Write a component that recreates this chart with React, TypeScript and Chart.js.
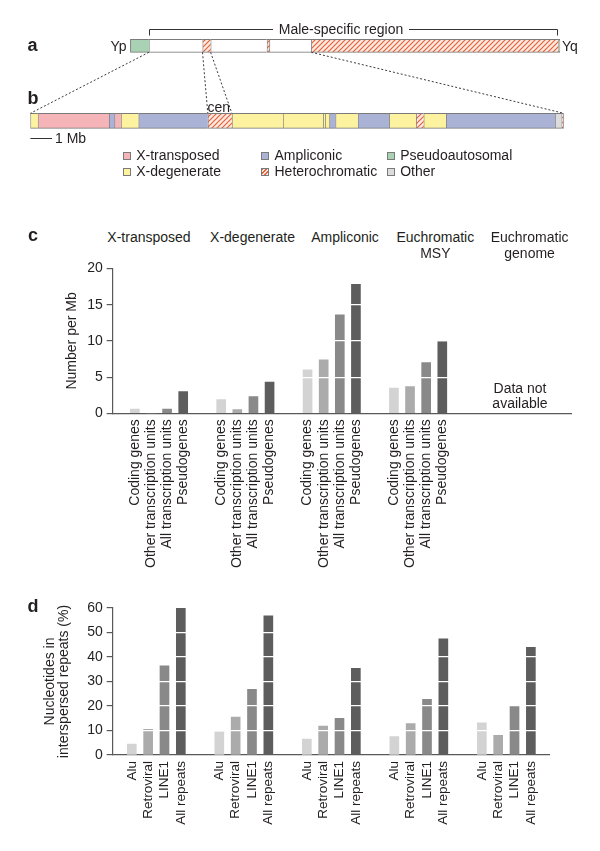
import React, { useEffect, useRef } from 'react';
import { Chart, registerables } from 'chart.js';

Chart.register(...registerables);

const FONT = '"Liberation Sans", Arial, Helvetica, sans-serif';
const TEXT = '#231f20';
const AXIS = '#58595b';

// ---------- Panel a: whole Y chromosome (segment lengths, Mb) ----------
const aSegmentKinds = ['Pseudoautosomal', 'Euchromatic', 'Heterochromatic', 'Euchromatic', 'Heterochromatic', 'Euchromatic', 'Heterochromatic', 'Pseudoautosomal'];
const aSegmentMb = [2.47, 7.16, 1.08, 7.5, 0.35, 5.59, 33.0, 0.2];

// ---------- Panel b: MSY euchromatin (segment lengths, Mb) ----------
const bSegmentKinds = ['X-degenerate', 'X-transposed', 'Ampliconic', 'X-transposed', 'X-degenerate', 'Ampliconic', 'Heterochromatic', 'X-degenerate', 'X-degenerate', 'X-degenerate', 'X-degenerate', 'Ampliconic', 'X-degenerate', 'Ampliconic', 'X-degenerate', 'Heterochromatic', 'X-degenerate', 'Ampliconic', 'Other', 'Heterochromatic'];
const bSegmentMb = [0.34, 3.28, 0.25, 0.30, 0.81, 3.19, 1.11, 2.35, 1.85, 0.09, 0.2, 0.28, 1.03, 1.44, 1.24, 0.35, 1.03, 5.02, 0.30, 0.10];

const legendColumns = [['X-transposed', 'X-degenerate'], ['Ampliconic', 'Heterochromatic'], ['Pseudoautosomal', 'Other']];

// ---------- Panel c: number per Mb ----------
const groupNames = [['X-transposed'], ['X-degenerate'], ['Ampliconic'], ['Euchromatic', 'MSY'], ['Euchromatic', 'genome']];
const cSeriesLabels = ['Coding genes', 'Other transcription units', 'All transcription units', 'Pseudogenes'];
const cCodingGenes = [0.6, 1.9, 6.0, 3.5, null];
const cOtherTranscriptionUnits = [0, 0.5, 7.4, 3.7, null];
const cAllTranscriptionUnits = [0.6, 2.3, 13.6, 7.0, null];
const cPseudogenes = [3.0, 4.3, 17.8, 9.9, null];

// ---------- Panel d: nucleotides in interspersed repeats (%) ----------
const dSeriesLabels = ['Alu', 'Retroviral', 'LINE1', 'All repeats'];
const dAlu = [4.5, 9.5, 6.5, 7.5, 13.1];
const dRetroviral = [10.5, 15.5, 11.8, 12.8, 8.0];
const dLine1 = [36.4, 26.8, 15.0, 22.7, 20.0];
const dAllRepeats = [60.0, 56.8, 35.4, 47.4, 43.9];

const SERIES_GRAYS = ['#d3d3d3', '#ababab', '#898989', '#5d5d5d'];
const KIND_COLORS: Record<string, string> = {
  'X-transposed': '#f5b4b8',
  'X-degenerate': '#fdf29f',
  'Ampliconic': '#aab3d6',
  'Pseudoautosomal': '#a9d1b4',
  'Other': '#dcdcdc',
  'Euchromatic': '#ffffff',
};

// layout constants (pixels)
const AB_AREA_LEFT = 30.4, AB_AREA_RIGHT = 563.7;
const A_LEFT_PX = 130.4, A_RIGHT_PX = 559.9;
const A_THICK = 13, B_THICK = 15;
const GROUP_PITCH = 5.355; // in bar slots
const MSY_TEXT_X = 341, MSY_GAP = 68;

function cumulative(arr: number[]) {
  const out = [0];
  arr.forEach((v) => out.push(out[out.length - 1] + v));
  return out;
}

function makeHatch(): CanvasPattern {
  const c = document.createElement('canvas');
  c.width = 5; c.height = 5;
  const g = c.getContext('2d')!;
  g.fillStyle = '#fde9df';
  g.fillRect(0, 0, 5, 5);
  g.strokeStyle = '#e2633d';
  g.lineWidth = 1.2;
  g.beginPath();
  g.moveTo(-1, 6); g.lineTo(6, -1);
  g.moveTo(-1, 1); g.lineTo(1, -1);
  g.moveTo(4, 6); g.lineTo(6, 4);
  g.stroke();
  return g.createPattern(c, 'repeat')!;
}

function kindFill(kind: string, hatch: CanvasPattern) {
  return kind === 'Heterochromatic' ? hatch : KIND_COLORS[kind];
}

function makeDiagram(canvas: HTMLCanvasElement, hatch: CanvasPattern) {
  const aTotal = aSegmentMb.reduce((s, v) => s + v, 0);
  const bTotal = bSegmentMb.reduce((s, v) => s + v, 0);
  const pxPerA = (A_RIGHT_PX - A_LEFT_PX) / aTotal;
  const aMin = -(A_LEFT_PX - AB_AREA_LEFT) / pxPerA;
  const aMax = aTotal + (AB_AREA_RIGHT - A_RIGHT_PX) / pxPerA;
  const aCum = cumulative(aSegmentMb);
  const bCum = cumulative(bSegmentMb);

  const seg = (v: number, i: number, n: number, kind: string, which: 'a' | 'b') => ({
    data: which === 'a' ? [v, null] : [null, v],
    xAxisID: which === 'a' ? 'xa' : 'xb',
    stack: which,
    grouped: false,
    backgroundColor: kindFill(kind, hatch),
    borderColor: '#7a7a7a',
    borderWidth: { top: 1, bottom: 1, left: 1, right: i === n - 1 ? 1 : 0 },
    borderSkipped: false,
    barThickness: which === 'a' ? A_THICK : B_THICK,
  });

  const plugin = {
    id: 'diagramLines',
    afterDatasetsDraw(chart: any) {
      const { ctx } = chart;
      const xa = chart.scales.xa, xb = chart.scales.xb, y = chart.scales.y;
      const aMid = y.getPixelForValue(0), bMid = y.getPixelForValue(1);
      const aTop = aMid - A_THICK / 2, aBot = aMid + A_THICK / 2, bTop = bMid - B_THICK / 2;
      ctx.save();
      ctx.strokeStyle = '#3a3a3a';
      ctx.lineWidth = 1;
      ctx.setLineDash([2, 2]);
      const pairs = [[aCum[1], 0], [aCum[2], bCum[6]], [aCum[3], bCum[7]], [aCum[6], bCum[bCum.length - 1]]];
      pairs.forEach(([va, vb]) => {
        ctx.beginPath();
        ctx.moveTo(xa.getPixelForValue(va), aBot);
        ctx.lineTo(xb.getPixelForValue(vb), bTop);
        ctx.stroke();
      });
      ctx.setLineDash([]);
      ctx.strokeStyle = '#333';
      const bx0 = Math.round(xa.getPixelForValue(aCum[1])) + 0.5;
      const bx1 = Math.round(xa.getPixelForValue(aCum[7])) - 0.5;
      const by = Math.round(aTop - 10.5) + 0.5;
      ctx.beginPath();
      ctx.moveTo(bx0, by + 6); ctx.lineTo(bx0, by); ctx.lineTo(MSY_TEXT_X - MSY_GAP, by);
      ctx.moveTo(MSY_TEXT_X + MSY_GAP, by); ctx.lineTo(bx1, by); ctx.lineTo(bx1, by + 6);
      ctx.stroke();
      // 1 Mb scale bar
      const sy = Math.round(bMid + 17) + 0.5;
      ctx.beginPath();
      ctx.moveTo(xb.getPixelForValue(0), sy);
      ctx.lineTo(xb.getPixelForValue(1), sy);
      ctx.stroke();
      ctx.restore();
    },
  };

  return new Chart(canvas, {
    type: 'bar',
    data: {
      labels: ['a', 'b'],
      datasets: [
        ...aSegmentMb.map((v, i) => seg(v, i, aSegmentMb.length, aSegmentKinds[i], 'a')),
        ...bSegmentMb.map((v, i) => seg(v, i, bSegmentMb.length, bSegmentKinds[i], 'b')),
      ] as any,
    },
    options: {
      indexAxis: 'y',
      animation: false,
      responsive: false,
      layout: { padding: { left: AB_AREA_LEFT, right: 600 - AB_AREA_RIGHT, top: 8.3, bottom: 1.7 } },
      plugins: { legend: { display: false }, tooltip: { enabled: false } },
      scales: {
        y: { type: 'category', display: false, offset: true, stacked: true },
        xa: { type: 'linear', axis: 'x', position: 'bottom', display: false, min: aMin, max: aMax, stacked: true },
        xb: { type: 'linear', axis: 'x', position: 'top', display: false, min: 0, max: bTotal, stacked: true },
      } as any,
    },
    plugins: [plugin],
  });
}

interface GroupedCfg {
  series: (number | null)[][];
  labels: string[];
  yMax: number;
  yStep: number;
  labelEvery: number;
  title: string | string[];
  titlePad: number;
  titleLineHeight: number;
  padTop: number;
  padRight: number;
  xAxisHeight: number;
  yAxisWidth: number;
  xMin: number;
  xMax: number;
  tickFont: number;
}

const MAJOR_TICK = 6, MINOR_TICK = 3.5;

function makeGrouped(canvas: HTMLCanvasElement, cfg: GroupedCfg) {
  const positions: number[] = [];
  const tickLabels: string[] = [];
  const nGroups = cfg.series[0].length;
  for (let g = 0; g < nGroups; g++) {
    const has = cfg.series.some((s) => s[g] !== null);
    if (!has) continue;
    cfg.series.forEach((_, i) => {
      positions.push(g * GROUP_PITCH + i);
      tickLabels.push(cfg.labels[i]);
    });
  }
  const isMajor = (v: number) => Math.abs(v % cfg.labelEvery) < 1e-6;
  const datasets = cfg.series.map((s, i) => ({
    label: cfg.labels[i],
    data: s.map((v, g) => (v === null ? null : { x: g * GROUP_PITCH + i, y: v })).filter((p) => p !== null),
    backgroundColor: SERIES_GRAYS[i],
    barThickness: 9,
    grouped: false,
  }));

  // short tick marks for the unlabeled (minor) y ticks
  const minorTicks = {
    id: 'minorTicks',
    afterDraw(chart: any) {
      const y = chart.scales.y;
      const { ctx } = chart;
      ctx.save();
      ctx.strokeStyle = AXIS;
      ctx.lineWidth = 1.2;
      y.ticks.forEach((t: any) => {
        if (isMajor(t.value)) return;
        const py = Math.round(y.getPixelForValue(t.value)) + 0.5;
        ctx.beginPath();
        ctx.moveTo(y.right - MINOR_TICK, py);
        ctx.lineTo(y.right, py);
        ctx.stroke();
      });
      ctx.restore();
    },
  };

  return new Chart(canvas, {
    type: 'bar',
    data: { datasets: datasets as any },
    options: {
      animation: false,
      responsive: false,
      layout: { padding: { top: cfg.padTop, right: cfg.padRight, left: 0, bottom: 0 } },
      plugins: { legend: { display: false }, tooltip: { enabled: false } },
      scales: {
        x: {
          type: 'linear',
          min: cfg.xMin,
          max: cfg.xMax,
          grid: { display: false, drawTicks: false },
          border: { display: true, color: AXIS, width: 1.2 },
          afterBuildTicks: (scale: any) => {
            scale.ticks = positions.map((v) => ({ value: v }));
          },
          afterFit: (scale: any) => {
            scale.height = cfg.xAxisHeight;
          },
          ticks: {
            autoSkip: false,
            minRotation: 90,
            maxRotation: 90,
            padding: 6,
            color: TEXT,
            font: { size: cfg.tickFont, family: FONT },
            callback: (_v: any, i: number) => tickLabels[i],
          },
        },
        y: {
          min: 0,
          max: cfg.yMax,
          ticks: {
            stepSize: cfg.yStep,
            padding: 4,
            color: TEXT,
            font: { size: 14, family: FONT },
            callback: (v: any) => (isMajor(v) ? String(v) : ''),
          },
          grid: {
            z: 1,
            color: (ctx: any) => (ctx.tick && (ctx.tick.value === 0 || ctx.tick.value === cfg.yMax) ? 'rgba(0,0,0,0)' : '#ffffff'),
            lineWidth: 1.2,
            tickColor: (ctx: any) => (ctx.tick && isMajor(ctx.tick.value) ? AXIS : 'rgba(0,0,0,0)'),
            tickLength: MAJOR_TICK,
            drawTicks: true,
          },
          border: { display: true, color: AXIS, width: 1.2, z: 2 },
          afterFit: (scale: any) => {
            scale.width = cfg.yAxisWidth;
          },
          title: {
            display: true,
            text: cfg.title,
            color: TEXT,
            font: { size: 14, family: FONT, lineHeight: cfg.titleLineHeight },
            padding: { top: cfg.titlePad, bottom: 0 },
          },
        },
      } as any,
    },
    plugins: [minorTicks],
  });
}

function Label(props: { x: number; y: number; text: string; size?: number; bold?: boolean; align?: 'left' | 'center' | 'right' }) {
  const size = props.size ?? 14;
  const align = props.align ?? 'left';
  const style: React.CSSProperties = {
    position: 'absolute',
    left: props.x,
    top: props.y - 0.8465 * size,
    fontFamily: FONT,
    fontSize: size,
    lineHeight: `${size}px`,
    fontWeight: props.bold ? 700 : 400,
    color: TEXT,
    whiteSpace: 'nowrap',
    transform: align === 'center' ? 'translateX(-50%)' : align === 'right' ? 'translateX(-100%)' : undefined,
  };
  return <div style={style}>{props.text}</div>;
}

const groupTitleX = [149, 252.5, 345, 435.3, 529.6];
const legendColX = [122.7, 261, 386.7];
const legendRowBaseline = [160.3, 176.3];

export default function App() {
  const abRef = useRef<HTMLCanvasElement>(null);
  const cRef = useRef<HTMLCanvasElement>(null);
  const dRef = useRef<HTMLCanvasElement>(null);

  useEffect(() => {
    Chart.defaults.font.family = FONT;
    Chart.defaults.color = TEXT;
    const hatch = makeHatch();
    const charts = [
      makeDiagram(abRef.current!, hatch),
      makeGrouped(cRef.current!, {
        series: [cCodingGenes, cOtherTranscriptionUnits, cAllTranscriptionUnits, cPseudogenes],
        labels: cSeriesLabels,
        yMax: 20,
        yStep: 2.5,
        labelEvery: 5,
        title: 'Number per Mb',
        titlePad: 63.3,
        titleLineHeight: 1.2,
        padTop: 18.5,
        padRight: 28.3,
        xAxisHeight: 186.7,
        yAxisWidth: 112.7,
        xMin: -0.483,
        xMax: 26.2,
        tickFont: 14,
      }),
      makeGrouped(dRef.current!, {
        series: [dAlu, dRetroviral, dLine1, dAllRepeats],
        labels: dSeriesLabels,
        yMax: 60,
        yStep: 10,
        labelEvery: 10,
        title: ['Nucleotides in', 'interspersed repeats (%)'],
        titlePad: 42.3,
        titleLineHeight: 1.05,
        padTop: 18,
        padRight: 50.2,
        xAxisHeight: 96,
        yAxisWidth: 112.7,
        xMin: -0.5,
        xMax: 24.91,
        tickFont: 13.5,
      }),
    ];
    return () => charts.forEach((c) => c.destroy());
  }, []);

  const canvasStyle = (top: number, h: number): React.CSSProperties => ({ position: 'absolute', left: 0, top, width: 600, height: h, display: 'block' });

  return (
    <div style={{ position: 'absolute', left: 0, top: 0, width: 600, height: 851, background: '#ffffff', overflow: 'hidden' }}>
      <canvas ref={abRef} width={600} height={160} style={canvasStyle(0, 160)} />
      <canvas ref={cRef} width={600} height={350} style={canvasStyle(250, 350)} />
      <canvas ref={dRef} width={600} height={261} style={canvasStyle(590, 261)} />

      <Label x={27.5} y={51} text="a" size={18} bold />
      <Label x={27.5} y={104.5} text="b" size={18} bold />
      <Label x={28} y={241.5} text="c" size={18} bold />
      <Label x={27.5} y={612.5} text="d" size={18} bold />

      <Label x={126.5} y={50.7} text="Yp" align="right" />
      <Label x={562} y={50.7} text="Yq" />
      <Label x={MSY_TEXT_X} y={33.5} text="Male-specific region" align="center" />
      <Label x={207.5} y={111.5} text="cen" />
      <Label x={55} y={142.5} text="1 Mb" />

      {legendColumns.map((col, ci) =>
        col.map((kind, ri) => (
          <React.Fragment key={kind}>
            <div
              style={{
                position: 'absolute',
                left: legendColX[ci],
                top: legendRowBaseline[ri] - 8.5,
                width: 8,
                height: 8,
                boxSizing: 'border-box',
                border: '1px solid #7a7a7a',
                background:
                  kind === 'Heterochromatic'
                    ? 'repeating-linear-gradient(135deg, #e2633d 0 1.2px, #fde9df 1.2px 2.8px)'
                    : KIND_COLORS[kind],
              }}
            />
            <Label x={legendColX[ci] + 13.5} y={legendRowBaseline[ri]} text={kind} />
          </React.Fragment>
        ))
      )}

      {groupNames.map((lines, gi) =>
        lines.map((t, li) => <Label key={`${gi}-${li}`} x={groupTitleX[gi]} y={241.5 + li * 16.7} text={t} align="center" />)
      )}
      <Label x={520} y={393.3} text="Data not" align="center" />
      <Label x={520} y={408.3} text="available" align="center" />
    </div>
  );
}
